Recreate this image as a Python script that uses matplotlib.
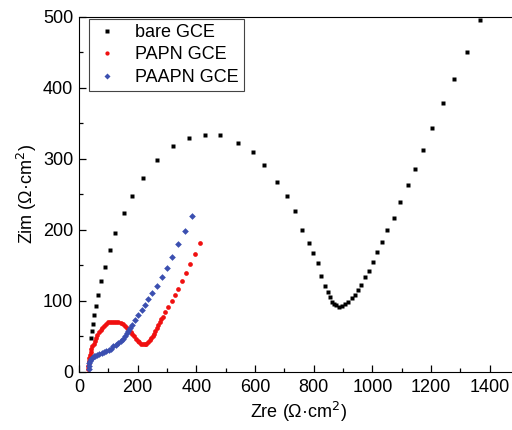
import matplotlib
matplotlib.use('Agg')
import matplotlib.pyplot as plt
from matplotlib.ticker import MultipleLocator

plt.rcParams['font.family'] = ['Liberation Sans', 'DejaVu Sans']

# bare GCE
bare_x = [40, 44, 48, 53, 59, 66, 76, 90, 106, 124, 155, 181, 218, 265, 320, 376, 429, 480,
          543, 592, 631, 676, 708, 735, 759, 783, 799, 816, 826, 839, 848, 855, 863, 870, 877,
          886, 895, 906, 916, 930, 942, 950, 962, 975, 988, 1002, 1016, 1033, 1050, 1072,
          1094, 1120, 1145, 1173, 1204, 1239, 1278, 1321, 1366]
bare_y = [48, 57, 68, 80, 93, 109, 128, 148, 171, 196, 224, 247, 273, 298, 318, 330, 334, 333,
          322, 309, 292, 268, 247, 227, 200, 181, 167, 153, 135, 121, 112, 105, 99, 95, 94,
          91, 93, 96, 99, 104, 109, 115, 123, 133, 142, 155, 169, 183, 200, 217,
          239, 263, 285, 313, 344, 379, 412, 451, 496]

# PAPN GCE
papn_x = [31, 32, 33, 34, 36, 38, 40, 43, 46, 50, 54, 58, 63, 68, 74, 80, 86, 93, 100, 107,
          114, 121, 128, 135, 142, 149, 156, 163, 170, 176, 182, 188, 194, 200, 206, 212, 218,
          224, 230, 236, 241, 246, 251, 256, 261, 266, 271, 276, 281, 287, 295, 305, 316, 326,
          339, 352, 364, 379, 395, 414]
papn_y = [4, 8, 12, 16, 20, 24, 28, 32, 36, 40, 44, 48, 52, 56, 59, 62, 65, 67, 70, 71,
          71, 71, 70, 70, 69, 67, 65, 62, 59, 56, 53, 50, 47, 44, 42, 40, 39,
          39, 40, 42, 45, 48, 51, 54, 58, 62, 66, 71, 74, 78, 85, 92, 100, 108,
          117, 128, 139, 152, 166, 181]

# PAAPN GCE
paapn_x = [33, 34, 36, 38, 41, 45, 50, 56, 63, 70, 78, 86, 94, 102, 110, 118, 126, 134, 142,
           150, 157, 163, 168, 174, 180, 191, 202, 214, 225, 237, 248, 266, 282, 299, 319,
           339, 362, 385]
paapn_y = [4, 8, 12, 15, 18, 20, 22, 23, 24, 25, 26, 28, 29, 31, 33, 36, 38, 41, 44,
           47, 51, 55, 58, 62, 66, 73, 80, 87, 94, 102, 111, 121, 133, 146, 162,
           180, 199, 220]

fig = plt.figure(figsize=(5.12, 4.3), dpi=100)
ax = fig.add_axes([0.154, 0.135, 0.86, 0.826])

ax.plot(bare_x, bare_y, 's', color='black', ms=3.2, mec='none', label='bare GCE')
ax.plot(papn_x, papn_y, 'o', color='#f01010', ms=3.4, mec='none', label='PAPN GCE')
ax.plot(paapn_x, paapn_y, 'D', color='#3b4fb0', ms=3.4, mec='none', label='PAAPN GCE')

ax.set_xlim(0, 1500)
ax.set_ylim(0, 500)
ax.xaxis.set_major_locator(MultipleLocator(200))
ax.xaxis.set_minor_locator(MultipleLocator(100))
ax.yaxis.set_major_locator(MultipleLocator(100))
ax.yaxis.set_minor_locator(MultipleLocator(50))
ax.set_xticks([0, 200, 400, 600, 800, 1000, 1200, 1400])
ax.tick_params(which='both', direction='in', labelsize=13, width=0.9)
ax.tick_params(which='major', length=5)
ax.tick_params(which='minor', length=3)
ax.tick_params(axis='x', pad=5)
ax.tick_params(axis='y', pad=4)

ax.set_xlabel('Zre (Ω·cm$^2$)', fontsize=13, labelpad=3)
ax.set_ylabel('Zim (Ω·cm$^2$)', fontsize=13, labelpad=3)

leg = ax.legend(loc='upper left', bbox_to_anchor=(0.02, 1.0), fontsize=13,
                frameon=True, fancybox=False, edgecolor='#444444', framealpha=1,
                handletextpad=0.9, labelspacing=0.3, borderpad=0.3,
                handlelength=1.3, markerscale=0.9, borderaxespad=0.1)
leg.get_frame().set_linewidth(0.8)

fig.savefig('out.png', dpi=100)
